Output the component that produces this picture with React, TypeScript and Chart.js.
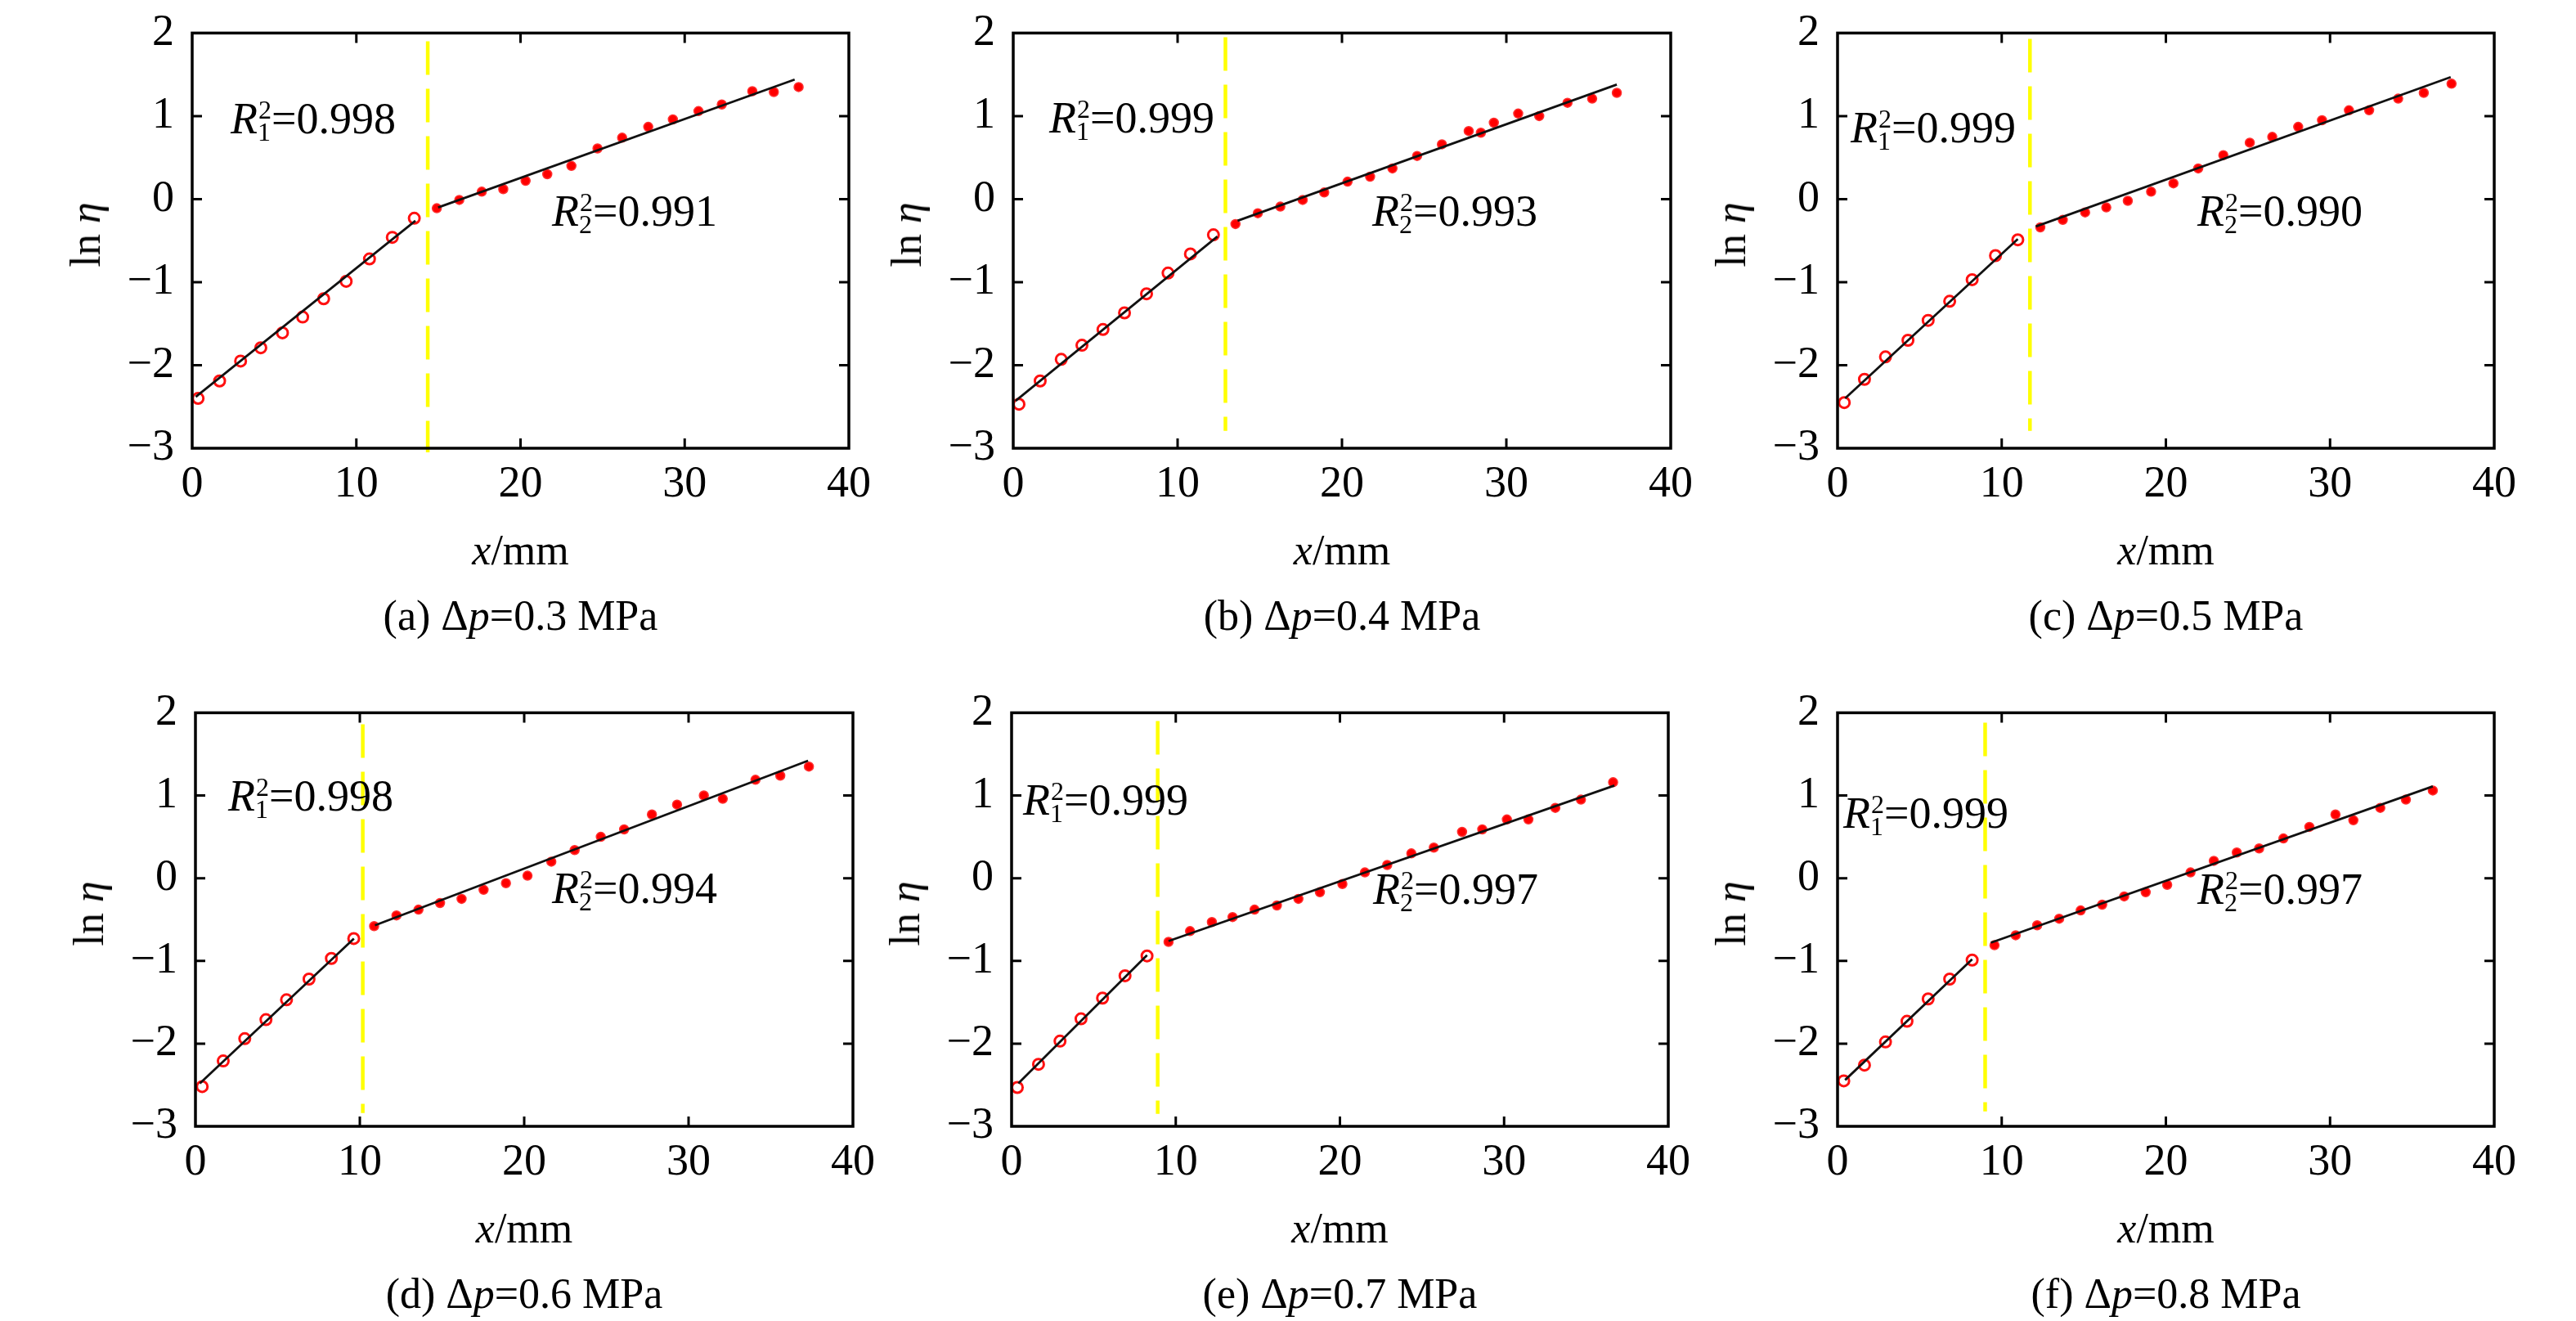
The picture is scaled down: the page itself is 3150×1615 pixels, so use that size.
import { useEffect, useRef } from "react";
import { Chart, registerables } from "chart.js";

Chart.register(...registerables);

// values
const xTicks = [0, 10, 20, 30, 40];
const yTicks = [-3, -2, -1, 0, 1, 2];
const panelLetters = ["a", "b", "c", "d", "e", "f"];
const pressures = ["0.3", "0.4", "0.5", "0.6", "0.7", "0.8"];
const r1Values = ["0.998", "0.999", "0.999", "0.998", "0.999", "0.999"];
const r2Values = ["0.991", "0.993", "0.990", "0.994", "0.997", "0.997"];
const breakX = [14.35, 12.91, 11.72, 10.18, 8.9, 8.99];
const breakTop = [1.9, 1.95, 1.93, 1.86, 1.9, 1.88];
const breakBottom = [-3.05, -2.79, -2.79, -2.84, -2.85, -2.82];

const openA = [[0.36, -2.4], [1.67, -2.19], [2.95, -1.95], [4.18, -1.79], [5.5, -1.61], [6.73, -1.42], [8.01, -1.2], [9.38, -0.99], [10.8, -0.72], [12.19, -0.46], [13.53, -0.23]];
const filledA = [[14.9, -0.11], [16.27, -0.01], [17.64, 0.09], [18.95, 0.12], [20.31, 0.22], [21.63, 0.3], [23.1, 0.4], [24.69, 0.61], [26.19, 0.74], [27.78, 0.87], [29.28, 0.96], [30.84, 1.06], [32.26, 1.14], [34.12, 1.3], [35.43, 1.29], [36.94, 1.35]];
const fitA1 = [[0.22, -2.38], [13.6, -0.26]];
const fitA2 = [[14.98, -0.1], [36.7, 1.44]];

const openB = [[0.35, -2.47], [1.64, -2.19], [2.92, -1.93], [4.18, -1.76], [5.46, -1.57], [6.77, -1.37], [8.11, -1.14], [9.42, -0.89], [10.78, -0.66], [12.18, -0.43]];
const filledB = [[13.52, -0.3], [14.88, -0.17], [16.25, -0.09], [17.61, -0.01], [18.92, 0.08], [20.34, 0.21], [21.71, 0.27], [23.07, 0.37], [24.57, 0.52], [26.08, 0.66], [27.71, 0.82], [28.45, 0.8], [29.24, 0.92], [30.72, 1.03], [32.0, 1.0], [33.72, 1.16], [35.22, 1.21], [36.72, 1.28]];
const fitB1 = [[0.14, -2.43], [12.42, -0.45]];
const fitB2 = [[13.65, -0.26], [36.72, 1.38]];

const openC = [[0.41, -2.45], [1.64, -2.17], [2.92, -1.9], [4.29, -1.7], [5.52, -1.46], [6.83, -1.23], [8.2, -0.97], [9.62, -0.68], [10.98, -0.49]];
const filledC = [[12.35, -0.34], [13.72, -0.25], [15.08, -0.16], [16.37, -0.1], [17.68, -0.02], [19.1, 0.09], [20.46, 0.19], [21.97, 0.37], [23.5, 0.53], [25.11, 0.68], [26.48, 0.75], [28.06, 0.87], [29.51, 0.95], [31.15, 1.07], [32.38, 1.07], [34.15, 1.21], [35.71, 1.28], [37.4, 1.39]];
const fitC1 = [[0.46, -2.4], [10.98, -0.48]];
const fitC2 = [[12.08, -0.33], [37.35, 1.47]];

const openD = [[0.41, -2.52], [1.69, -2.21], [3.0, -1.94], [4.29, -1.71], [5.54, -1.47], [6.91, -1.22], [8.27, -0.97], [9.63, -0.73]];
const filledD = [[10.87, -0.58], [12.23, -0.45], [13.57, -0.38], [14.88, -0.3], [16.19, -0.25], [17.53, -0.14], [18.89, -0.06], [20.2, 0.03], [21.65, 0.2], [23.07, 0.34], [24.66, 0.5], [26.08, 0.59], [27.77, 0.77], [29.3, 0.89], [30.93, 1.0], [32.08, 0.96], [34.07, 1.19], [35.58, 1.24], [37.32, 1.35]];
const fitD1 = [[0.27, -2.48], [9.64, -0.73]];
const fitD2 = [[10.92, -0.57], [37.27, 1.42]];

const openE = [[0.35, -2.53], [1.64, -2.25], [2.95, -1.97], [4.23, -1.7], [5.54, -1.45], [6.91, -1.18], [8.25, -0.94]];
const filledE = [[9.56, -0.77], [10.87, -0.64], [12.2, -0.53], [13.46, -0.47], [14.8, -0.38], [16.16, -0.33], [17.47, -0.25], [18.78, -0.17], [20.15, -0.07], [21.52, 0.07], [22.88, 0.16], [24.35, 0.3], [25.72, 0.37], [27.44, 0.56], [28.67, 0.59], [30.17, 0.71], [31.48, 0.71], [33.12, 0.85], [34.68, 0.95], [36.64, 1.16]];
const fitE1 = [[0.41, -2.48], [8.25, -0.93]];
const fitE2 = [[9.56, -0.76], [36.72, 1.12]];

const openF = [[0.38, -2.45], [1.64, -2.26], [2.92, -1.98], [4.23, -1.73], [5.52, -1.46], [6.83, -1.22], [8.2, -0.99]];
const filledF = [[9.56, -0.81], [10.85, -0.69], [12.16, -0.57], [13.5, -0.49], [14.81, -0.39], [16.12, -0.32], [17.46, -0.22], [18.77, -0.17], [20.08, -0.08], [21.5, 0.07], [22.92, 0.21], [24.32, 0.31], [25.68, 0.36], [27.16, 0.48], [28.74, 0.62], [30.33, 0.77], [31.42, 0.7], [33.06, 0.85], [34.62, 0.95], [36.26, 1.06]];
const fitF1 = [[0.46, -2.44], [8.2, -0.98]];
const fitF2 = [[9.34, -0.78], [36.26, 1.11]];

const openPts = [openA, openB, openC, openD, openE, openF];
const filledPts = [filledA, filledB, filledC, filledD, filledE, filledF];
const fitLow = [fitA1, fitB1, fitC1, fitD1, fitE1, fitF1];
const fitHigh = [fitA2, fitB2, fitC2, fitD2, fitE2, fitF2];

// layout (page pixels): plot area of each panel, and offsets of the R² labels
const plotBoxes = [
  { left: 235, top: 26, w: 803, h: 522 },
  { left: 1239, top: 26, w: 804, h: 522 },
  { left: 2247, top: 26, w: 803, h: 522 },
  { left: 239, top: 857, w: 804, h: 520 },
  { left: 1237, top: 857, w: 803, h: 520 },
  { left: 2247, top: 857, w: 803, h: 520 },
];
const r1Pos = [[47, 137], [44, 136], [16, 148], [40, 134], [14, 139], [7, 155]];
const r2Pos = [[440, 250], [439, 250], [440, 250], [436, 247], [442, 248], [440, 248]];

const FONT = '"Liberation Serif", "Times New Roman", "DejaVu Serif", serif';
const Y_AXIS_W = 120;
const X_AXIS_H = 80;
const PAD_TOP = 40;
const PAD_RIGHT = 40;
const TICK = 12;

const toXY = (pts: number[][]) => pts.map(([x, y]) => ({ x, y }));

const framePlugin = {
  id: "frame",
  afterDatasetsDraw(chart: any) {
    const { ctx, chartArea: a, scales } = chart;
    ctx.save();
    ctx.strokeStyle = "#000";
    ctx.lineWidth = 3.5;
    ctx.strokeRect(a.left, a.top, a.right - a.left, a.bottom - a.top);
    ctx.lineWidth = 3;
    ctx.beginPath();
    xTicks.slice(1, -1).forEach((v) => {
      const px = scales.x.getPixelForValue(v);
      ctx.moveTo(px, a.bottom);
      ctx.lineTo(px, a.bottom - TICK);
      ctx.moveTo(px, a.top);
      ctx.lineTo(px, a.top + TICK);
    });
    yTicks.slice(1, -1).forEach((v) => {
      const py = scales.y.getPixelForValue(v);
      ctx.moveTo(a.left, py);
      ctx.lineTo(a.left + TICK, py);
      ctx.moveTo(a.right, py);
      ctx.lineTo(a.right - TICK, py);
    });
    ctx.stroke();
    ctx.restore();
  },
};

function RLabel({ left, baseline, sub, value }: { left: number; baseline: number; sub: string; value: string }) {
  return (
    <div
      style={{
        position: "absolute",
        left,
        top: baseline - 45,
        fontFamily: FONT,
        fontSize: 54,
        lineHeight: "54px",
        whiteSpace: "nowrap",
        color: "#000",
      }}
    >
      <i>R</i>
      <span style={{ display: "inline-block", width: 17 }} />
      ={value}
      <span style={{ position: "absolute", left: 34, top: 0, fontSize: 32, lineHeight: "32px" }}>2</span>
      <span style={{ position: "absolute", left: 33, top: 27, fontSize: 32, lineHeight: "32px" }}>{sub}</span>
    </div>
  );
}

function Panel({ idx }: { idx: number }) {
  const chartRef = useRef<HTMLCanvasElement>(null);
  const box = plotBoxes[idx];
  const width = Y_AXIS_W + box.w + PAD_RIGHT;
  const height = PAD_TOP + box.h + X_AXIS_H;

  useEffect(() => {
    if (!chartRef.current) return;
    const chart = new Chart(chartRef.current, {
      type: "scatter",
      data: {
        datasets: [
          {
            data: toXY(fitLow[idx]),
            showLine: true,
            borderColor: "#111",
            borderWidth: 2.8,
            pointRadius: 0,
          },
          {
            data: toXY(fitHigh[idx]),
            showLine: true,
            borderColor: "#111",
            borderWidth: 2.8,
            pointRadius: 0,
          },
          {
            data: toXY(openPts[idx]),
            pointRadius: 6.5,
            pointBorderWidth: 3,
            pointBorderColor: "#ff1010",
            pointBackgroundColor: "rgba(255,255,255,0)",
          },
          {
            data: toXY(filledPts[idx]),
            pointRadius: 5.5,
            pointBorderWidth: 1.5,
            pointBorderColor: "#ff3030",
            pointBackgroundColor: "#ff0000",
          },
          {
            data: [
              { x: breakX[idx], y: breakTop[idx] },
              { x: breakX[idx], y: breakBottom[idx] },
            ],
            showLine: true,
            borderColor: "#ffff00",
            borderWidth: 4.5,
            borderDash: [41, 17],
            pointRadius: 0,
            clip: false as any,
          },
        ],
      },
      options: {
        responsive: false,
        animation: false,
        events: [],
        layout: { padding: { top: PAD_TOP, right: PAD_RIGHT, left: 0, bottom: 0 } },
        plugins: { legend: { display: false }, tooltip: { enabled: false } },
        scales: {
          x: {
            type: "linear",
            min: xTicks[0],
            max: xTicks[xTicks.length - 1],
            ticks: {
              stepSize: 10,
              color: "#000",
              padding: 12,
              maxRotation: 0,
              font: { family: FONT, size: 54 },
            },
            grid: { display: false, drawTicks: false },
            border: { display: false },
            afterFit: (s: any) => {
              s.height = X_AXIS_H;
            },
          },
          y: {
            type: "linear",
            min: yTicks[0],
            max: yTicks[yTicks.length - 1],
            ticks: {
              stepSize: 1,
              color: "#000",
              padding: 22,
              font: { family: FONT, size: 54 },
              callback: (v: any) => (Number(v) < 0 ? "\u2212" + Math.abs(Number(v)) : String(v)),
            },
            grid: { display: false, drawTicks: false },
            border: { display: false },
            afterFit: (s: any) => {
              s.width = Y_AXIS_W;
            },
          },
        },
      },
      plugins: [framePlugin],
    });
    return () => chart.destroy();
  }, [idx]);

  const cx = box.left + box.w / 2;
  const bottom = box.top + box.h;
  return (
    <>
      <canvas
        ref={chartRef}
        width={width}
        height={height}
        style={{ position: "absolute", left: box.left - Y_AXIS_W, top: box.top - PAD_TOP, width, height }}
      />
      <div
        style={{
          position: "absolute",
          left: box.left - 130,
          top: box.top + box.h / 2,
          transform: "translate(-50%, -50%) rotate(-90deg)",
          fontFamily: FONT,
          fontSize: 52,
          lineHeight: 1,
          whiteSpace: "nowrap",
        }}
      >
        ln <i>η</i>
      </div>
      <div
        style={{
          position: "absolute",
          left: cx,
          top: bottom + 125,
          transform: "translate(-50%, -50%)",
          fontFamily: FONT,
          fontSize: 52,
          lineHeight: 1,
          whiteSpace: "nowrap",
        }}
      >
        <i>x</i>/mm
      </div>
      <div
        style={{
          position: "absolute",
          left: cx,
          top: bottom + 205,
          transform: "translate(-50%, -50%)",
          fontFamily: FONT,
          fontSize: 52,
          lineHeight: 1,
          whiteSpace: "nowrap",
        }}
      >
        ({panelLetters[idx]}) Δ<i>p</i>={pressures[idx]} MPa
      </div>
      <RLabel left={box.left + r1Pos[idx][0]} baseline={box.top + r1Pos[idx][1]} sub="1" value={r1Values[idx]} />
      <RLabel left={box.left + r2Pos[idx][0]} baseline={box.top + r2Pos[idx][1]} sub="2" value={r2Values[idx]} />
    </>
  );
}

export default function App() {
  return (
    <div
      style={{
        position: "absolute",
        left: 0,
        top: 0,
        width: 3150,
        height: 1615,
        background: "#fff",
        overflow: "hidden",
      }}
    >
      {plotBoxes.map((_, i) => (
        <Panel key={i} idx={i} />
      ))}
    </div>
  );
}
